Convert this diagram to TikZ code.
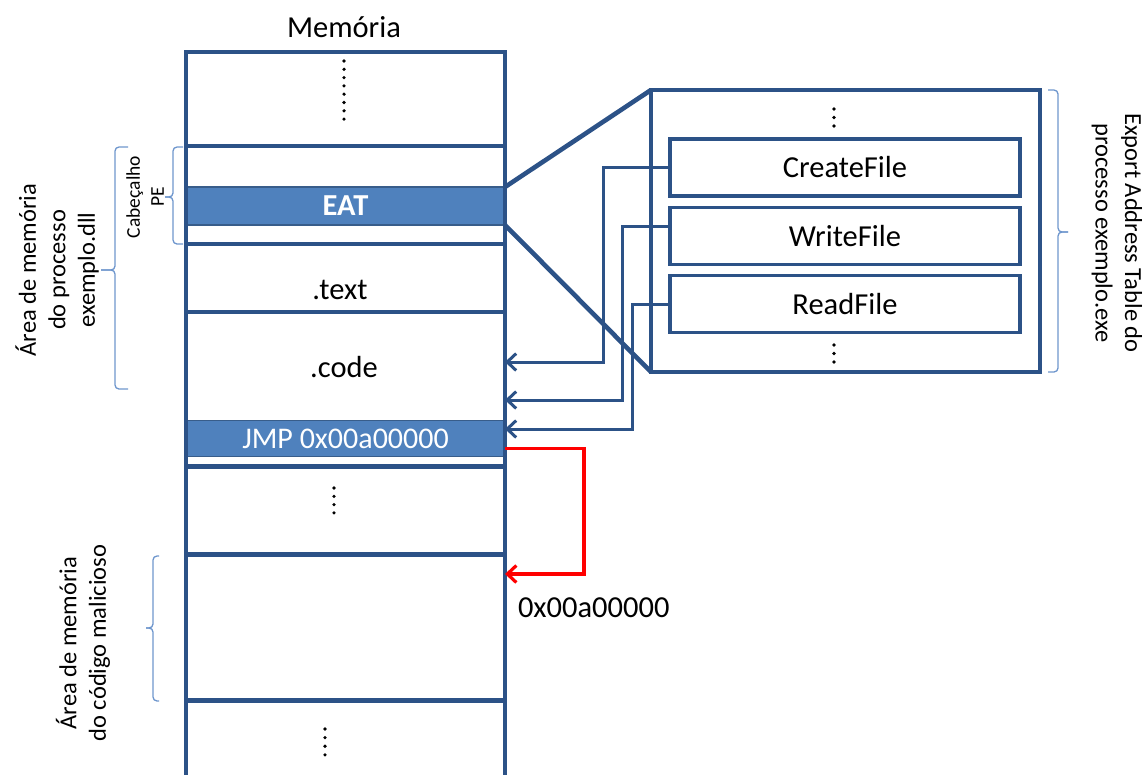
\documentclass[tikz,border=0pt]{standalone}
\usepackage{fontspec}
\setmainfont{Carlito}
\usetikzlibrary{arrows.meta}
\definecolor{frameblue}{RGB}{44,82,135}
\definecolor{cellfill}{RGB}{79,129,189}
\definecolor{cellline}{RGB}{56,93,138}
\definecolor{bracecol}{RGB}{110,150,205}
\begin{document}
\begin{tikzpicture}[x=1pt,y=-1pt,
  txt/.style={font=\fontsize{30.5}{36}\selectfont, inner sep=0pt, outer sep=0pt},
  hot/.style={rectangle, minimum width=319pt, inner sep=0pt, outer sep=0pt,
    fill=cellfill, draw=cellline, line width=1.8pt, text=white},
  sepline/.style={line width=4.6pt, draw=frameblue},
  wall/.style={line width=3.4pt, draw=frameblue},
  fnbox/.style={rectangle, draw=frameblue, line width=3.4pt, minimum width=350pt,
    minimum height=57pt, inner sep=0pt, outer sep=0pt,
    font=\fontsize{30.5}{36}\selectfont},
  link/.style={draw=frameblue, line width=3pt, -{Straight Barb[length=9pt,width=17pt]}},
  jump/.style={draw=red, line width=3.2pt, -{Straight Barb[length=9pt,width=17pt]}},
  bracket/.style={draw=bracecol, line width=1.3pt, rounded corners=4pt},
  sidelabel/.style={font=\fontsize{24.5}{29.5}\selectfont, align=center, inner sep=0pt},
  smalllabel/.style={font=\fontsize{19.5}{24}\selectfont, align=center, inner sep=0pt}
]
\useasboundingbox (0,0) rectangle (1143,774);

% title of the memory column
\node[txt] (title) at (344,27) {Memória};

% highlighted cells of the memory column
\node[hot, minimum height=38pt, font=\fontsize{30.5}{36}\selectfont\bfseries] (eat) at (345.5,206) {EAT};
\node[hot, minimum height=36pt, font=\fontsize{30}{36}\selectfont] (jmp) at (345.5,438.5) {JMP 0x00a00000};

% section labels
\node[txt] (textsec) at (340,290) {.text};
\node[txt] (codesec) at (344,367) {.code};

% memory column frame and separators
\draw[wall] (186,790) -- (186,52) -- (505,52) -- (505,790);
\foreach \yy in {146,244,312,466.5,554.5,700.5}
  \draw[sepline] (186,\yy) -- (505,\yy);

% ellipsis dots inside the column
\foreach \i in {0,...,7} \fill (344,61+8.3*\i) circle[radius=1.8pt];
\foreach \i in {0,...,3} \fill (334,488+8.3*\i) circle[radius=1.8pt];
\foreach \i in {0,...,3} \fill (325,729+8.6*\i) circle[radius=1.8pt];

% export address table
\node[rectangle, draw=frameblue, line width=3.4pt, minimum width=389pt,
      minimum height=282pt, inner sep=0pt, outer sep=0pt] (eatbox) at (845.5,231) {};
\node[fnbox] (create) at (845,167.5) {CreateFile};
\node[fnbox] (write) at (845,236) {WriteFile};
\node[fnbox] (read) at (845,304) {ReadFile};
\foreach \i in {0,...,2} \fill (834,109+8.5*\i) circle[radius=1.8pt];
\foreach \i in {0,...,2} \fill (834,345+8.5*\i) circle[radius=1.8pt];

% zoom lines from the EAT cell to the table
\draw[line width=4.6pt, draw=frameblue] (eat.north east) -- (eatbox.north west);
\draw[line width=4.6pt, draw=frameblue] (eat.south east) -- (eatbox.south west);

% function pointers into the code section
\coordinate (inA) at (505,362);
\coordinate (inB) at (505,400);
\coordinate (inC) at (505,429);
\draw[link] (create.west) -- ++(-67,0) |- (inA);
\draw[link] ([yshift=10pt]write.west) -- ++(-48,0) |- (inB);
\draw[link] (read.west) -- ++(-38,0) |- (inC);

% hijacked jump to the malicious code
\coordinate (mal) at (505,574);
\draw[jump] ([yshift=-10pt]jmp.east) -- ++(79,0) |- (mal);
\node[txt, anchor=west] (addr) at (518,608) {0x00a00000};

% braces and their labels
\draw[bracket] (183,147) -- (173,147) -- (173,197) -- (165,197);
\draw[bracket] (183,244) -- (173,244) -- (173,197) -- (165,197);
\node[smalllabel, rotate=90] (pelabel) at (145,197) {Cabeçalho\\PE};

\draw[bracket] (128,147) -- (115,147) -- (115,270) -- (101,270);
\draw[bracket] (128,389) -- (115,389) -- (115,270) -- (101,270);
\node[sidelabel, rotate=90] (procarea) at (57,270) {Área de memória\\do processo\\exemplo.dll};

\draw[bracket] (159,556) -- (153,556) -- (153,628) -- (146,628);
\draw[bracket] (159,701) -- (153,701) -- (153,628) -- (146,628);
\node[sidelabel, rotate=90] (malarea) at (83,643) {Área de memória\\do código malicioso};

\draw[bracket] (1048,90) -- (1058,90) -- (1058,232) -- (1068,232);
\draw[bracket] (1048,372) -- (1058,372) -- (1058,232) -- (1068,232);
\node[sidelabel, rotate=-90] (eatlabel) at (1117,233) {Export Address Table do\\processo exemplo.exe};
\end{tikzpicture}
\end{document}
